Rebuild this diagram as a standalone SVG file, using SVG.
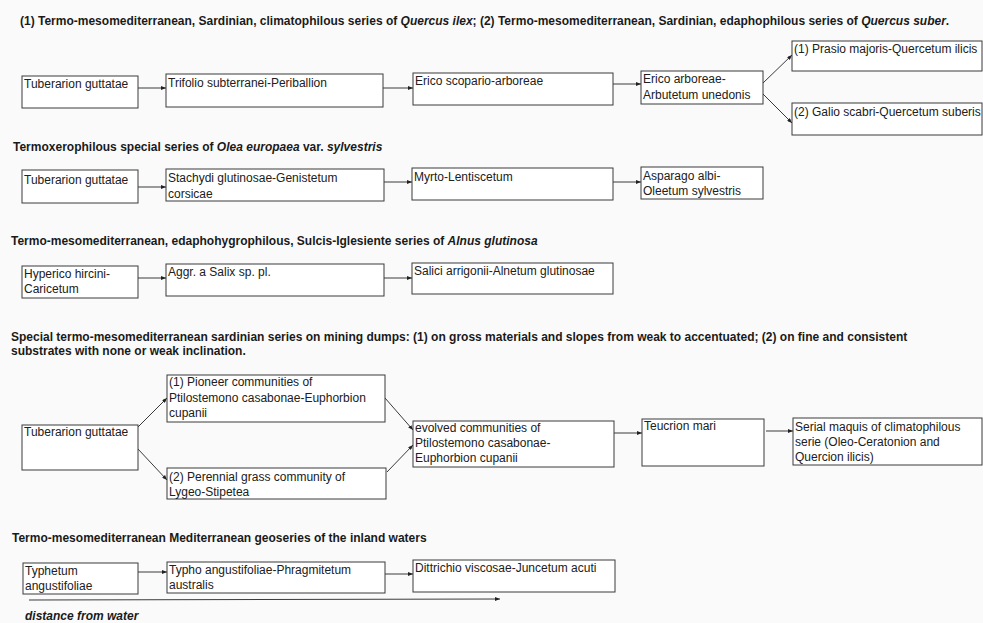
<svg xmlns="http://www.w3.org/2000/svg" width="983" height="623" viewBox="0 0 983 623">
<style>
.bg{fill:#fafafa}
.box{fill:#ffffff;stroke:#3a3a3a;stroke-width:1}
.t{font-family:"Liberation Sans",Arial,sans-serif;font-size:12px;fill:#202020}
.h{font-family:"Liberation Sans",Arial,sans-serif;font-size:12px;font-weight:bold;fill:#1a1a1a}
.i{font-style:italic}
.e{fill:none;stroke:#3a3a3a;stroke-width:1;marker-end:url(#ah)}
</style>
<defs>
<marker id="ah" markerWidth="5" markerHeight="4" refX="5" refY="2" orient="auto" markerUnits="userSpaceOnUse">
<path d="M0,0 L5,2 L0,4 Z" fill="#222"/>
</marker>
</defs>
<rect class="bg" x="0" y="0" width="983" height="623"/>

<g id="titles">
<text class="h" x="20" y="25">(1) Termo-mesomediterranean, Sardinian, climatophilous series of <tspan class="i">Quercus ilex</tspan>; (2) Termo-mesomediterranean, Sardinian, edaphophilous series of <tspan class="i">Quercus suber</tspan>.</text>
<text class="h" x="13" y="151">Termoxerophilous special series of <tspan class="i">Olea europaea</tspan> var. <tspan class="i">sylvestris</tspan></text>
<text class="h" x="11" y="245">Termo-mesomediterranean, edaphohygrophilous, Sulcis-Iglesiente series of <tspan class="i">Alnus glutinosa</tspan></text>
<text class="h" x="11" y="341">Special termo-mesomediterranean sardinian series on mining dumps: (1) on gross materials and slopes from weak to accentuated; (2) on fine and consistent</text>
<text class="h" x="11" y="355">substrates with none or weak inclination.</text>
<text class="h" x="12" y="542">Termo-mesomediterranean Mediterranean geoseries of the inland waters</text>
<text class="h i" x="25" y="620">distance from water</text>
</g>

<g id="connectors">
<line class="e" x1="138" y1="88" x2="166" y2="88"/>
<line class="e" x1="383" y1="88" x2="413" y2="88"/>
<line class="e" x1="613" y1="84" x2="641" y2="84"/>
<line class="e" x1="763" y1="83" x2="792" y2="55"/>
<line class="e" x1="763" y1="94" x2="792" y2="123"/>

<line class="e" x1="138" y1="187" x2="166" y2="187"/>
<line class="e" x1="384" y1="182" x2="412" y2="182"/>
<line class="e" x1="613" y1="182" x2="641" y2="182"/>

<line class="e" x1="138" y1="278" x2="166" y2="278"/>
<line class="e" x1="384" y1="278" x2="412" y2="278"/>

<line class="e" x1="138" y1="427" x2="167" y2="398"/>
<line class="e" x1="138" y1="449" x2="167" y2="480"/>
<line class="e" x1="385" y1="398" x2="413" y2="430"/>
<line class="e" x1="387" y1="472" x2="413" y2="445"/>
<line class="e" x1="614" y1="433" x2="642" y2="433"/>
<line class="e" x1="766" y1="431" x2="793" y2="431"/>

<line class="e" x1="138" y1="572" x2="167" y2="572"/>
<line class="e" x1="385" y1="574" x2="413" y2="574"/>
<line class="e" x1="29" y1="600" x2="500" y2="599"/>
</g>

<g id="n1a"><rect class="box" x="22" y="76" width="116" height="32"/><text class="t" x="24" y="88">Tuberarion guttatae</text></g>
<g id="n1b"><rect class="box" x="166" y="74" width="217" height="33"/><text class="t" x="168" y="87">Trifolio subterranei-Periballion</text></g>
<g id="n1c"><rect class="box" x="413" y="73" width="200" height="32"/><text class="t" x="415" y="85">Erico scopario-arboreae</text></g>
<g id="n1d"><rect class="box" x="641" y="71" width="122" height="33"/><text class="t" x="643" y="83">Erico arboreae-</text><text class="t" x="643" y="99">Arbutetum unedonis</text></g>
<g id="n1e"><rect class="box" x="792" y="41" width="190" height="30"/><text class="t" x="794" y="53">(1) Prasio majoris-Quercetum ilicis</text></g>
<g id="n1f"><rect class="box" x="792" y="103" width="190" height="32"/><text class="t" x="794" y="116">(2) Galio scabri-Quercetum suberis</text></g>

<g id="n2a"><rect class="box" x="22" y="170" width="116" height="33"/><text class="t" x="24" y="184">Tuberarion guttatae</text></g>
<g id="n2b"><rect class="box" x="166" y="169" width="218" height="32"/><text class="t" x="168" y="182">Stachydi glutinosae-Genistetum</text><text class="t" x="168" y="198">corsicae</text></g>
<g id="n2c"><rect class="box" x="412" y="168" width="201" height="32"/><text class="t" x="414" y="181">Myrto-Lentiscetum</text></g>
<g id="n2d"><rect class="box" x="641" y="167" width="122" height="32"/><text class="t" x="643" y="180">Asparago albi-</text><text class="t" x="643" y="195">Oleetum sylvestris</text></g>

<g id="n3a"><rect class="box" x="22" y="266" width="116" height="32"/><text class="t" x="24" y="278">Hyperico hircini-</text><text class="t" x="24" y="293">Caricetum</text></g>
<g id="n3b"><rect class="box" x="166" y="264" width="218" height="32"/><text class="t" x="168" y="276">Aggr. a Salix sp. pl.</text></g>
<g id="n3c"><rect class="box" x="412" y="263" width="201" height="31"/><text class="t" x="414" y="275">Salici arrigonii-Alnetum glutinosae</text></g>

<g id="n4a"><rect class="box" x="22" y="425" width="116" height="45"/><text class="t" x="24" y="436">Tuberarion guttatae</text></g>
<g id="n4b"><rect class="box" x="167" y="375" width="218" height="47"/><text class="t" x="169" y="386">(1) Pioneer communities of</text><text class="t" x="169" y="402">Ptilostemono casabonae-Euphorbion</text><text class="t" x="169" y="417">cupanii</text></g>
<g id="n4c"><rect class="box" x="167" y="468" width="219" height="31"/><text class="t" x="169" y="481">(2) Perennial grass community of</text><text class="t" x="169" y="496">Lygeo-Stipetea</text></g>
<g id="n4d"><rect class="box" x="413" y="421" width="201" height="46"/><text class="t" x="415" y="432">evolved communities of</text><text class="t" x="415" y="447">Ptilostemono casabonae-</text><text class="t" x="415" y="462">Euphorbion cupanii</text></g>
<g id="n4e"><rect class="box" x="642" y="419" width="122" height="47"/><text class="t" x="644" y="430">Teucrion mari</text></g>
<g id="n4f"><rect class="box" x="793" y="418" width="189" height="47"/><text class="t" x="795" y="431">Serial maquis of climatophilous</text><text class="t" x="795" y="446">serie (Oleo-Ceratonion and</text><text class="t" x="795" y="461">Quercion ilicis)</text></g>

<g id="n5a"><rect class="box" x="23" y="563" width="115" height="31"/><text class="t" x="25" y="575">Typhetum</text><text class="t" x="25" y="590">angustifoliae</text></g>
<g id="n5b"><rect class="box" x="167" y="562" width="218" height="31"/><text class="t" x="169" y="574">Typho angustifoliae-Phragmitetum</text><text class="t" x="169" y="589">australis</text></g>
<g id="n5c"><rect class="box" x="413" y="560" width="202" height="32"/><text class="t" x="415" y="572">Dittrichio viscosae-Juncetum acuti</text></g>
</svg>
